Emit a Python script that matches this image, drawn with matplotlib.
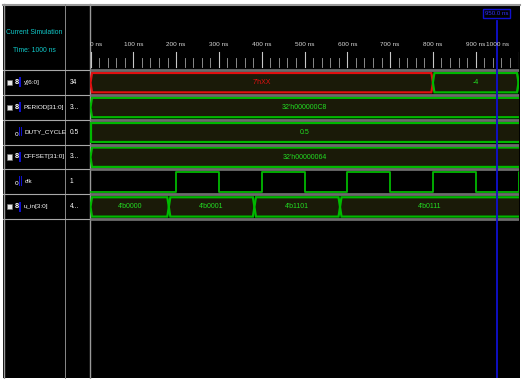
import matplotlib
matplotlib.use("Agg")
import matplotlib.pyplot as plt
from matplotlib.patches import Polygon, Rectangle

# ---------------- data ----------------
time_ticks = [0, 100, 200, 300, 400, 500, 600, 700, 800, 900, 1000]
tick_labels = ["0 ns", "100 ns", "200 ns", "300 ns", "400 ns", "500 ns",
               "600 ns", "700 ns", "800 ns", "900 ns", "1000 ns"]
minor_ticks = list(range(0, 1001, 20))

signal_names = ["y[6:0]", "PERIOD[31:0]", "DUTY_CYCLE", "OFFSET[31:0]", "clk", "u_in[3:0]"]
signal_values = ["34", "3...", "0.5", "3...", "1", "4..."]
signal_is_bus = [True, True, False, True, False, True]

y_times = [0, 800, 1000]
y_labels = ["7'hXX", "-4", ""]
period_times = [0]
period_labels = ["32'h000000C8"]
duty_times = [0]
duty_labels = ["0.5"]
offset_times = [0]
offset_labels = ["32'h00000064"]
clk_times = [0, 200, 300, 400, 500, 600, 700, 800, 900, 1000]
clk_levels = [0, 1, 0, 1, 0, 1, 0, 1, 0, 1]
u_in_times = [0, 183, 383, 583]
u_in_labels = ["4'b0000", "4'b0001", "4'b1101", "4'b0111"]

cursor_time = 950.0
sim_time = 1000

# ---------------- style ----------------
FONT = ['Liberation Sans Narrow', 'Liberation Sans', 'DejaVu Sans']
W, H = 524, 379
GREEN = '#00b800'
GREEN_T = '#22dd22'
RED = '#e01010'
BUS_FILL = '#1a1a08'
BLUE = '#1010d0'
CYAN = '#10c8c8'

# pixel layout
X_LEFT, X_DIV1, X_DIV2, X_RIGHT = 3, 65, 90, 520
Y_TOP, Y_ROWS, Y_BOT = 4, 70, 378
ROW_H = 24.85
T0_PX = 90.5
PX_PER_NS = 0.428

def px_to_row(yp):
    return (yp - Y_ROWS) / ROW_H

fig = plt.figure(figsize=(W / 100, H / 100), dpi=100, facecolor='white')

# background frame
bg = fig.add_axes([0, 0, 1, 1])
bg.set_xlim(0, W)
bg.set_ylim(H, 0)
bg.axis('off')
bg.add_patch(Rectangle((X_LEFT, Y_TOP), X_RIGHT - X_LEFT, Y_BOT - Y_TOP,
                       facecolor='black', edgecolor='none'))
bg.plot([X_LEFT, X_RIGHT], [Y_TOP + 0.5, Y_TOP + 0.5], color='#9a9a9a', lw=1.5)
bg.plot([X_LEFT + 0.5, X_LEFT + 0.5], [Y_TOP, Y_BOT], color='#9a9a9a', lw=1.0)
bg.plot([X_DIV1, X_DIV1], [Y_TOP, Y_BOT], color='#8a8a8a', lw=0.7)
bg.plot([X_DIV2, X_DIV2], [Y_TOP, Y_BOT], color='#9a9a9a', lw=1.0)

ylim = (px_to_row(Y_BOT), px_to_row(Y_TOP))
n_rows = len(signal_names)

# ---------------- name panel ----------------
axn = fig.add_axes([X_LEFT / W, 1 - Y_BOT / H, (X_DIV2 - X_LEFT) / W, (Y_BOT - Y_TOP) / H])
axn.set_xlim(X_LEFT, X_DIV2)
axn.set_ylim(*ylim)
axn.axis('off')
axn.patch.set_visible(False)

axn.text(34, px_to_row(33), "Current Simulation", color=CYAN, fontsize=4.9,
         ha='center', va='center', family=FONT)
axn.text(34, px_to_row(51), f"Time: {sim_time} ns", color=CYAN, fontsize=4.9,
         ha='center', va='center', family=FONT)

for i in range(n_rows + 1):
    axn.plot([X_LEFT, X_DIV2], [i, i], color='#a8a8a8', lw=0.8)

for i, (nm, val, isbus) in enumerate(zip(signal_names, signal_values, signal_is_bus)):
    yc = i + 0.5
    if isbus:
        axn.add_patch(Rectangle((7, yc - 0.11), 5, 0.22, facecolor='#e8e8e8',
                                edgecolor='#707070', lw=0.4))
        axn.text(16.5, yc, "8", color='white', fontsize=5.2, ha='center',
                 va='center', family=FONT, fontweight='bold')
        axn.add_patch(Rectangle((19, yc - 0.2), 2.0, 0.4, facecolor=BLUE, edgecolor='none'))
        axn.text(24, yc, nm, color='white', fontsize=4.6, ha='left', va='center',
                 family=FONT)
    else:
        axn.text(16.5, yc + 0.08, "o", color='white', fontsize=4.8, ha='center',
                 va='center', family=FONT)
        axn.add_patch(Rectangle((18.6, yc - 0.22), 1.2, 0.38, facecolor=BLUE, edgecolor='none'))
        axn.add_patch(Rectangle((20.8, yc - 0.22), 1.2, 0.38, facecolor=BLUE, edgecolor='none'))
        axn.text(24.5, yc, nm, color='white', fontsize=4.6, ha='left', va='center',
                 family=FONT)
    axn.text(70, yc, val, color='white', fontsize=4.8, ha='left', va='center',
             family=FONT)

# ---------------- waveform panel ----------------
xmin = (X_DIV2 - T0_PX) / PX_PER_NS
xmax = (X_RIGHT - 1 - T0_PX) / PX_PER_NS
ax = fig.add_axes([X_DIV2 / W, 1 - Y_BOT / H, (X_RIGHT - 1 - X_DIV2) / W, (Y_BOT - Y_TOP) / H])
ax.set_xlim(xmin, xmax)
ax.set_ylim(*ylim)
ax.axis('off')
ax.patch.set_visible(False)

# time ruler
for t in minor_ticks:
    major = (t % 100 == 0)
    ax.plot([t, t], [px_to_row(52 if major else 58), px_to_row(67)],
            color='#c8c8c8' if major else '#a0a0a0', lw=0.8 if major else 0.6)
for k, (t, lab) in enumerate(zip(time_ticks, tick_labels)):
    ha = 'center'
    tx = t
    if k == 0:
        ha = 'left'
    if k == len(time_ticks) - 1:
        ha = 'right'
        tx = xmax - 22
    ax.text(tx, px_to_row(45), lab, color='#d8d8d8', fontsize=4.6, ha=ha,
            va='center', family=FONT)

# row separators
for i in range(n_rows + 1):
    ax.plot([xmin, xmax], [i, i], color='#6c6c6c', lw=2.0, solid_capstyle='butt')

TOP_F, BOT_F = 0.12, 0.90
PINCH = 3.5

def draw_bus(row, times, labels, colors=None, pinch=PINCH):
    ends = list(times[1:]) + [xmax + 10]
    top, bot = row + TOP_F, row + BOT_F
    mid = (top + bot) / 2
    for k, (t0, t1, lab) in enumerate(zip(times, ends, labels)):
        col = colors[k] if colors else GREEN
        pts = [(t0, mid), (t0 + pinch, top), (t1 - pinch, top), (t1, mid),
               (t1 - pinch, bot), (t0 + pinch, bot)]
        ax.add_patch(Polygon(pts, closed=True, facecolor=BUS_FILL, edgecolor=col,
                             lw=1.6, joinstyle='miter'))
        if lab:
            xc = (t0 + min(t1, xmax)) / 2
            tcol = RED if col == RED else GREEN_T
            ax.text(xc, mid, lab, color=tcol, fontsize=5.0, ha='center', va='center',
                    family=FONT)

y_colors = [RED if 'X' in lab else GREEN for lab in y_labels]
draw_bus(0, y_times, y_labels, y_colors)
draw_bus(1, period_times, period_labels)
draw_bus(2, duty_times, duty_labels, pinch=0.0)
draw_bus(3, offset_times, offset_labels)
draw_bus(5, u_in_times, u_in_labels)

# clock
r = 4
ct = list(clk_times) + [xmax + 10]
cl = [r + (TOP_F if v else BOT_F) for v in clk_levels] + \
     [r + (TOP_F if clk_levels[-1] else BOT_F)]
ax.step(ct, cl, where='post', color=GREEN, lw=1.3)

# cursor
ax.plot([cursor_time, cursor_time], [px_to_row(21), px_to_row(Y_BOT)], color=BLUE, lw=1.3)
ax.text(cursor_time - 1, px_to_row(13.5), f"{cursor_time:.1f} ns", color='#3030ff',
        fontsize=4.4, ha='center', va='center', family=FONT,
        bbox=dict(boxstyle='square,pad=0.25', facecolor='black', edgecolor=BLUE, lw=1.0))

fig.savefig("out.png", dpi=100, facecolor='white')
